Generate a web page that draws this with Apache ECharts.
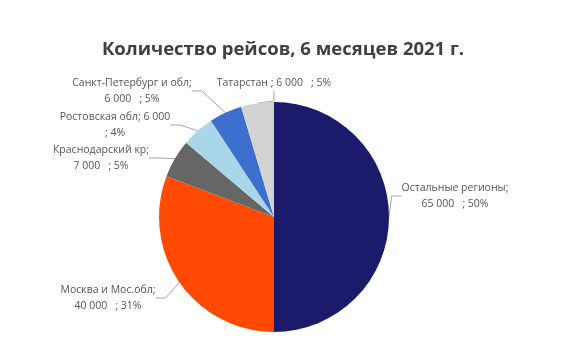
<!DOCTYPE html>
<html>
<head>
<meta charset="utf-8">
<script src="https://cdn.jsdelivr.net/npm/echarts@6/dist/echarts.min.js"></script>
<style>
html,body{margin:0;padding:0;background:#fff;}
#c{width:566px;height:360px;}
</style>
</head>
<body>
<div id="c"></div>
<script>
const categories = ['Остальные регионы', 'Москва и Мос.обл', 'Краснодарский кр', 'Ростовская обл', 'Санкт-Петербург и обл', 'Татарстан'];
const values = [65000, 40000, 7000, 6000, 6000, 6000];
const percentLabels = [50, 31, 5, 4, 5, 5];
const colors = ['#1b1a6b', '#fe4a05', '#666666', '#a9d6e8', '#3d6fcf', '#d3d3d3'];

function fmt(v){ return String(v).replace(/\B(?=(\d{3})+(?!\d))/g, ' '); }
// line-break style and placement (label centre) of each label
const labelStyle = ['two','two','two','rost','two','one'];
const labelPos = [[455,196],[108,298],[101,158],[115,125],[132,91],[274,83]];

const chart = echarts.init(document.getElementById('c'));
chart.setOption({
  animation: false,
  title: {
    text: 'Количество рейсов, 6 месяцев 2021 г.',
    left: 'center', top: 35,
    textStyle: {fontFamily: 'Open Sans', fontSize: 18.5, fontWeight: 'bold', color: '#404040'}
  },
  series: [{
    type: 'pie',
    center: [274, 217],
    radius: 115,
    startAngle: 90,
    clockwise: true,
    data: categories.map((n, i) => ({name: n, value: values[i], itemStyle: {color: colors[i]}})),
    label: {
      show: true,
      position: 'outside',
      fontFamily: 'Open Sans',
      fontSize: 10.5,
      lineHeight: 16,
      color: '#555555',
      align: 'center',
      formatter: p => {
        const i = p.dataIndex, v = fmt(values[i]), pc = percentLabels[i] + '%';
        if (labelStyle[i] === 'one') return p.name + ' ; ' + v + '   ; ' + pc;
        if (labelStyle[i] === 'rost') return p.name + '; ' + v + '\n; ' + pc;
        return p.name + ';\n' + v + '   ; ' + pc;
      }
    },
    labelLine: {show: true, length: 8, length2: 10, lineStyle: {color: '#a6a6a6', width: 1}},
    labelLayout: p => ({
      x: labelPos[p.dataIndex][0],
      y: labelPos[p.dataIndex][1],
      align: 'center',
      verticalAlign: 'middle'
    }),
    emphasis: {disabled: true}
  }]
});
</script>
</body>
</html>
